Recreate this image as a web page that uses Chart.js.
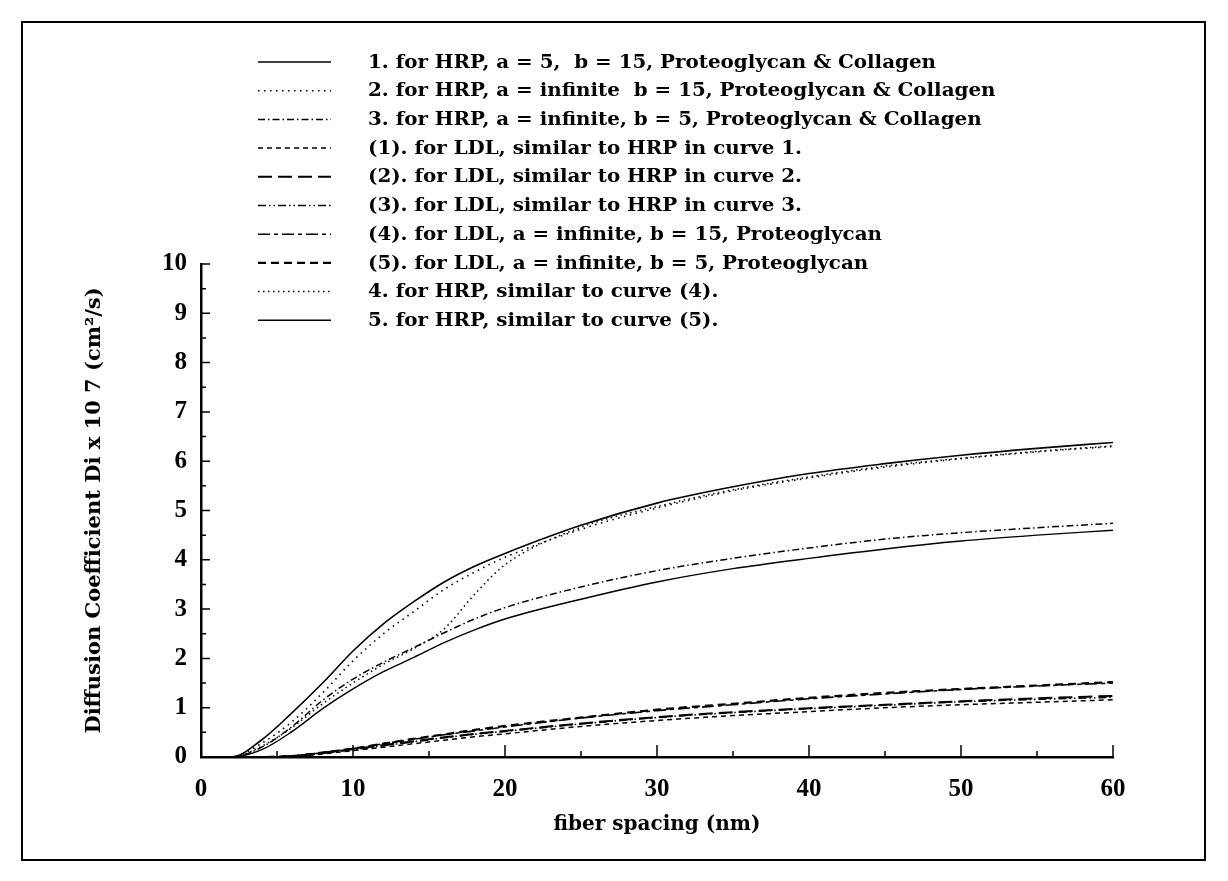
<!DOCTYPE html>
<html>
<head>
<meta charset="utf-8">
<script src="https://cdn.jsdelivr.net/npm/chart.js@4"></script>
<style>
  html, body { margin: 0; padding: 0; background: #fff; }
  #wrap { width: 1228px; height: 881px; }
</style>
</head>
<body>
<div id="wrap"><canvas id="chart" width="1228" height="881"></canvas></div>
<script>
// fiber spacing (nm)
const xs = [0, 2, 4, 6, 8, 10, 12, 14, 16, 18, 20, 25, 30, 35, 40, 45, 50, 55, 60];

// Di x 10^7 (cm2/s)
const hrp1 = [0, 0, 0.35, 0.9, 1.5, 2.15, 2.7, 3.15, 3.55, 3.87, 4.13, 4.7, 5.15, 5.48, 5.75, 5.95, 6.12, 6.26, 6.38];
const hrp2 = [0, 0, 0.28, 0.72, 1.3, 1.95, 2.5, 2.95, 3.4, 3.75, 4.05, 4.62, 5.05, 5.4, 5.66, 5.88, 6.05, 6.19, 6.3];
const hrp3 = [0, 0, 0.2, 0.62, 1.15, 1.58, 1.92, 2.22, 2.52, 2.8, 3.03, 3.45, 3.78, 4.03, 4.24, 4.42, 4.55, 4.65, 4.74];
const ldl1 = [0, 0, 0, 0.01, 0.06, 0.13, 0.2, 0.27, 0.34, 0.41, 0.47, 0.62, 0.74, 0.84, 0.92, 1.0, 1.06, 1.11, 1.16];
const ldl2 = [0, 0, 0, 0.02, 0.08, 0.16, 0.24, 0.32, 0.4, 0.47, 0.53, 0.68, 0.81, 0.91, 0.99, 1.06, 1.13, 1.19, 1.24];
const ldl3 = [0, 0, 0, 0.02, 0.08, 0.15, 0.23, 0.31, 0.39, 0.46, 0.52, 0.67, 0.8, 0.9, 0.98, 1.05, 1.12, 1.17, 1.21];
const ldl4 = [0, 0, 0, 0.02, 0.09, 0.17, 0.27, 0.36, 0.45, 0.53, 0.61, 0.79, 0.94, 1.06, 1.18, 1.28, 1.37, 1.44, 1.5];
const ldl5 = [0, 0, 0, 0.02, 0.09, 0.17, 0.27, 0.37, 0.46, 0.55, 0.63, 0.8, 0.96, 1.08, 1.2, 1.3, 1.38, 1.45, 1.52];
const hrp4 = [0, 0, 0.22, 0.6, 1.08, 1.5, 1.88, 2.2, 2.6, 3.3, 3.9, 4.66, 5.08, 5.42, 5.68, 5.9, 6.06, 6.2, 6.31];
const hrp5 = [0, 0, 0.15, 0.52, 0.98, 1.38, 1.73, 2.02, 2.32, 2.58, 2.8, 3.2, 3.55, 3.82, 4.03, 4.22, 4.38, 4.5, 4.6];

const labels = [
  "1. for HRP, a = 5,  b = 15, Proteoglycan & Collagen",
  "2. for HRP, a = infinite  b = 15, Proteoglycan & Collagen",
  "3. for HRP, a = infinite, b = 5, Proteoglycan & Collagen",
  "(1). for LDL, similar to HRP in curve 1.",
  "(2). for LDL, similar to HRP in curve 2.",
  "(3). for LDL, similar to HRP in curve 3.",
  "(4). for LDL, a = infinite, b = 15, Proteoglycan",
  "(5). for LDL, a = infinite, b = 5, Proteoglycan",
  "4. for HRP, similar to curve (4).",
  "5. for HRP, similar to curve (5)."
];

const yTicks = [0, 1, 2, 3, 4, 5, 6, 7, 8, 9, 10];
const xTicks = [0, 10, 20, 30, 40, 50, 60];

const FONT = "'Liberation Serif'";
const WIDE = "'DejaVu Serif'";

function pts(arr){ return xs.map((x, i) => ({ x, y: arr[i] })); }

// line styles: [data, dash, width]
const styles = [
  [hrp1, [], 1.6],
  [hrp2, [1.5, 4.5], 1.6],
  [hrp3, [7, 3, 1.5, 3], 1.5],
  [ldl1, [5, 4], 1.5],
  [ldl2, [14, 6], 2],
  [ldl3, [8, 3, 1.5, 3, 1.5, 3], 1.6],
  [ldl4, [12, 4, 4, 4], 1.6],
  [ldl5, [8, 5], 2.2],
  [hrp4, [1.5, 3.5], 1.5],
  [hrp5, [], 1.4]
];

const datasets = styles.map(([d, dash, w], i) => ({
  label: labels[i],
  data: pts(d),
  borderColor: "#000",
  borderWidth: w,
  borderDash: dash,
  pointRadius: 0,
  fill: false,
  cubicInterpolationMode: "monotone"
}));

// frame, inward ticks, hand-placed legend
const decor = {
  id: "decor",
  beforeDraw(c){
    const ctx = c.ctx;
    ctx.save();
    ctx.fillStyle = "#fff";
    ctx.fillRect(0, 0, c.width, c.height);
    ctx.strokeStyle = "#000";
    ctx.lineWidth = 2;
    ctx.strokeRect(22, 22, 1183, 838);
    ctx.restore();
  },
  afterDraw(c){
    const ctx = c.ctx;
    const xs_ = c.scales.x, ys_ = c.scales.y;
    const a = c.chartArea;
    ctx.save();
    ctx.strokeStyle = "#000";
    ctx.lineWidth = 1.5;
    ctx.beginPath();
    for (let v = 0.5; v <= 10; v += 0.5) {
      const py = ys_.getPixelForValue(v);
      const len = Number.isInteger(v) ? 9 : 5;
      ctx.moveTo(a.left, py); ctx.lineTo(a.left + len, py);
    }
    for (let v = 5; v <= 60; v += 5) {
      const px = xs_.getPixelForValue(v);
      const len = v % 10 === 0 ? 12 : 6;
      ctx.moveTo(px, a.bottom); ctx.lineTo(px, a.bottom - len);
    }
    ctx.stroke();

    // legend
    ctx.font = "bold 18px " + WIDE;
    ctx.fillStyle = "#000";
    ctx.textBaseline = "middle";
    const sx = 568 / ctx.measureText(labels[0]).width; // stretch to the source's wide face
    c.data.datasets.forEach((ds, i) => {
      const y = 62 + i * 28.7;
      ctx.beginPath();
      ctx.lineWidth = ds.borderWidth;
      ctx.setLineDash(ds.borderDash);
      ctx.moveTo(258, y); ctx.lineTo(331, y);
      ctx.stroke();
      ctx.setLineDash([]);
      ctx.save();
      ctx.translate(368, y + 1);
      ctx.scale(sx, 1);
      ctx.fillText(ds.label, 0, 0);
      ctx.restore();
    });
    ctx.restore();
  }
};

new Chart(document.getElementById("chart"), {
  type: "line",
  data: { datasets },
  plugins: [decor],
  options: {
    responsive: false,
    animation: false,
    layout: { padding: { left: 78, right: 115, top: 264, bottom: 40 } },
    plugins: { legend: { display: false }, tooltip: { enabled: false } },
    scales: {
      x: {
        type: "linear", min: 0, max: 60,
        afterBuildTicks: s => { s.ticks = xTicks.map(v => ({ value: v })); },
        afterFit: s => { s.height = 84; },
        grid: { display: false, drawTicks: false },
        border: { display: true, color: "#000", width: 2.5 },
        ticks: { color: "#000", padding: 18, maxRotation: 0,
                 font: { family: FONT, size: 25, weight: "bold" } },
        title: { display: true, text: "fiber spacing (nm)", color: "#000",
                 font: { family: WIDE, size: 20, weight: "bold" }, padding: { top: 8 } }
      },
      y: {
        type: "linear", min: 0, max: 10,
        afterBuildTicks: s => { s.ticks = yTicks.map(v => ({ value: v })); },
        afterFit: s => { s.width = 123; },
        grid: { display: false, drawTicks: false },
        border: { display: true, color: "#000", width: 2.5 },
        ticks: { color: "#000", padding: 14,
                 font: { family: FONT, size: 25, weight: "bold" } },
        title: { display: true, text: "Diffusion Coefficient Di x 10 7 (cm\u00b2/s)", color: "#000",
                 font: { family: WIDE, size: 21, weight: "bold" }, padding: { bottom: 4 } }
      }
    }
  }
});
</script>
</body>
</html>
